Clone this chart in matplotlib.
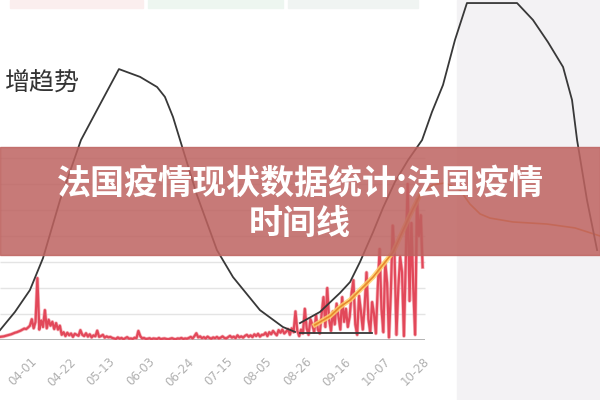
"""Recreate the France epidemic timeline screenshot (daily cases + trend sketch)."""

import matplotlib
matplotlib.use("Agg")
import matplotlib.pyplot as plt
from matplotlib.patches import Rectangle
import numpy as np

plt.rcParams["font.family"] = ["Noto Sans CJK SC", "DejaVu Sans"]

# Daily new cases (thousands), one value per day starting 03-16
daily_cases = [
    1.2, 1.3, 1.4, 1.6, 1.8, 2.0, 2.2, 2.5, 2.8, 3.0, 3.3, 3.6, 4.0, 4.4, 4.2, 4.8,
    5.5, 8.0, 4.5, 7.0, 23.8, 4.0, 7.5, 5.0, 11.5, 4.5, 7.8, 5.5, 7.0, 4.2, 6.5, 4.0, 5.5,
    2.0, 3.0, 1.5, 2.8, 1.8, 2.5, 1.2, 2.4, 2.0, 1.6, 3.8, 2.0, 1.5, 2.6, 1.3, 2.2, 1.0,
    1.8, 1.4, 3.6, 1.2, 1.5, 2.0, 0.9, 1.4, 1.0, 1.2, 0.8,
    0.6, 0.4, 1.0, 0.5, 0.8, 0.3, 0.7, 1.1, 0.5, 0.6, 0.4, 0.9, 0.7, 3.5, 1.5, 0.6, 0.8,
    0.4, 0.5, 0.7, 0.3, 0.6, 0.5, 0.4, 0.8, 0.3, 0.5, 0.6, 0.4, 0.3, 0.5, 0.7, 0.4, 0.3,
    0.6, 0.5, 0.8, 0.4, 0.6, 0.5,
    0.8, 1.2, 0.6, 1.5, 2.6, 1.0, 1.4, 0.7, 1.1, 0.6, 1.3, 0.8, 0.5, 1.0, 0.7, 1.2, 0.6,
    0.9, 1.4, 0.8, 0.6, 1.1, 1.6, 0.9, 1.3, 0.7, 1.8, 1.0, 1.4, 0.9, 1.6, 2.0, 1.2, 1.8,
    1.1, 2.2, 1.5, 2.4, 1.3, 2.0,
    2.0, 2.8, 1.5, 3.0, 2.2, 3.5, 2.6, 1.8, 3.8, 2.8, 4.0, 2.5, 3.2, 4.2, 2.0, 4.5, 3.0,
    11.0, 3.5, 1.5, 4.0, 2.5,
    12.0, 4.5, 2.0, 8.0, 6.0, 3.0, 9.5, 4.0, 2.5, 10.0, 16.5, 5.0, 20.0, 8.0, 3.5, 11.0,
    6.0, 14.0, 9.0, 4.0, 16.5, 7.0, 12.0,
    5.0, 9.0, 18.0, 23.0, 6.0, 2.0, 17.0, 11.0, 4.0, 13.0, 26.0, 8.0, 3.0, 14.6, 10.0,
    2.5, 20.0, 35.0, 12.0, 3.0, 30.0, 22.0, 1.0, 18.0, 44.0, 32.0, 2.0, 20.0, 32.0, 26.0,
    1.5, 30.0, 60.0, 15.0, 45.0, 20.0, 2.0, 54.0, 40.0, 48.0, 28.0,
]

tick_labels = ["04-01", "04-22", "05-13", "06-03", "06-24", "07-15",
               "08-05", "08-26", "09-16", "10-07", "10-28"]
tick_days = [16, 37, 58, 79, 100, 121, 142, 163, 184, 205, 226]

# Hand-drawn trend sketch (day, thousands)
wave1_days = [0, 8, 16, 23, 32.1, 43.3, 51.9, 63.6, 74.9, 84.0, 88.2, 92.5, 96.3,
              105.3, 116.0, 124.6, 139.0, 151.3, 157.8]
wave1_vals = [3.8, 10.8, 19.2, 31.5, 53.8, 76.9, 88.5, 104.2, 101.2, 97.3, 93.5, 85.8,
              76.9, 55.8, 34.6, 24.2, 11.5, 5.0, 3.1]
wave2_days = [160.4, 171.1, 181.8, 187.2, 192.5, 199.5, 204.8, 211.2, 218.2, 225.7,
              231.0, 236.9, 243.3, 249.7, 276.5, 285.0, 293.0, 301.1, 305.9, 308.6,
              313.9, 319.3]
wave2_vals = [6.5, 10.8, 18.1, 22.3, 30.0, 41.5, 50.8, 60.8, 69.2, 76.9, 87.7, 98.1,
              115.4, 129.6, 129.6, 123.1, 114.6, 105.0, 92.3, 76.9, 53.8, 34.6]
floor_days = [160.4, 198.9]
floor_vals = [2.7, 2.7]

# Orange smoothed curve (day, thousands)
avg_days = [168.4, 176.5, 181.8, 187.2, 199.5, 210.2, 219.3, 224.6, 231.0, 238.0,
            246.0, 251.3, 256.7, 262.0, 274.3, 292.5, 307.5, 320.9]
avg_vals = [5.8, 9.2, 12.7, 15.4, 24.2, 33.8, 48.1, 55.8, 59.6, 60.4, 57.7, 52.3,
            48.5, 46.9, 45.4, 44.6, 43.1, 40.0]

grid_levels = [10, 20, 30, 40, 50, 60, 70]

fig = plt.figure(figsize=(6, 4), dpi=100)
fig.patch.set_facecolor("white")

# background panels in the screenshot
fig.patches.append(Rectangle((457 / 600, 0), 143 / 600, 1, transform=fig.transFigure,
                             color="#f3f2f4", zorder=-2))
for x0, x1, col in [(10, 143, "#fbeeee"), (148, 283, "#edf6f0"), (288, 418, "#f0f4f2")]:
    fig.patches.append(Rectangle((x0 / 600, 1 - 8 / 400), (x1 - x0) / 600, 8 / 400,
                                 transform=fig.transFigure, color=col, zorder=-1))

ax = fig.add_axes([0, 0.15, 1, 0.85])
ax.set_facecolor("none")
days = np.arange(len(daily_cases))
ax.set_xlim(0, 600 / 1.87)
ax.set_ylim(0, 340 / 2.6)

ax.hlines(grid_levels, 0, 227.3, color="#e4e4e4", lw=1, zorder=1)
ax.hlines([0], 0, 227.3, color="#a8a8a8", lw=1.2, zorder=2)

ax.plot(days, daily_cases, color="#f08a94", lw=2.6, alpha=0.6, zorder=3)
ax.plot(days, daily_cases, color="#e2485a", lw=1.6, zorder=3)
ax.plot(avg_days[:8], avg_vals[:8], color="#ffd36b", lw=3.5, alpha=0.85, zorder=4)
ax.plot(avg_days, avg_vals, color="#e8892c", lw=1.2, zorder=5)
ax.plot(wave1_days, wave1_vals, color="#383838", lw=1.3, zorder=6)
ax.plot(wave2_days, wave2_vals, color="#383838", lw=1.3, zorder=6)
ax.plot(floor_days, floor_vals, color="#383838", lw=1.3, zorder=6)

for s in ax.spines.values():
    s.set_visible(False)
ax.set_yticks([])
ax.set_xticks(tick_days)
ax.set_xticklabels(tick_labels, rotation=45, ha="right", rotation_mode="anchor",
                   color="#b0b0b0", fontsize=8.5, family="DejaVu Sans")
ax.tick_params(axis="x", length=0, pad=11)

fig.text(5 / 600, 1 - 83 / 400, "增趋势", ha="left", va="center",
         fontsize=18, color="#333333")

# translucent title banner
fig.patches.append(Rectangle((0, 1 - 255 / 400), 1, 108 / 400, transform=fig.transFigure,
                             color="#be6360", alpha=0.85, zorder=10))
fig.text(0.5, 1 - 183 / 400, "法国疫情现状数据统计:法国疫情", ha="center", va="center",
         fontsize=24.5, fontweight="bold", color="white", zorder=11)
fig.text(0.5, 1 - 223 / 400, "时间线", ha="center", va="center",
         fontsize=24.5, fontweight="bold", color="white", zorder=11)

fig.savefig("out.png", dpi=100)
